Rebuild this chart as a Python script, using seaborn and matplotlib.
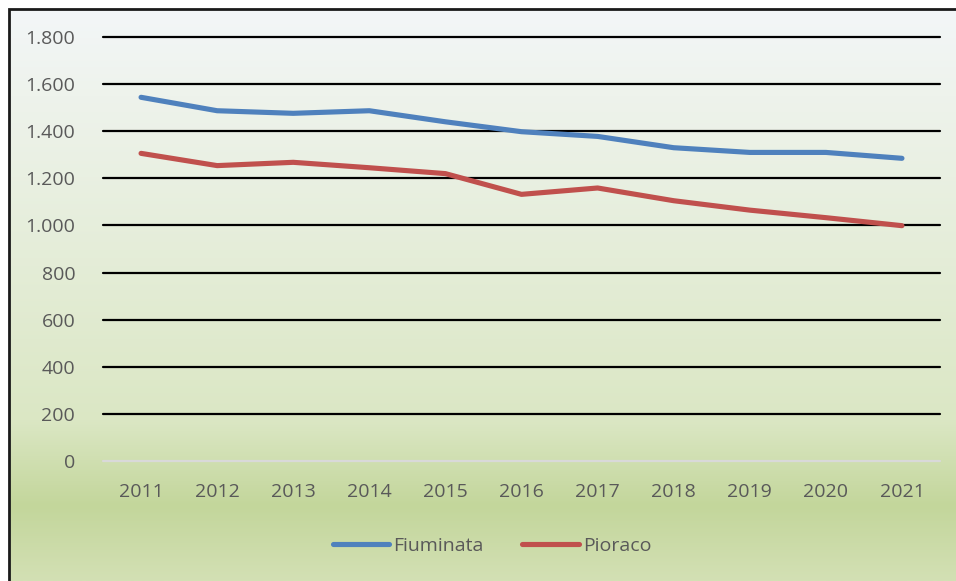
import numpy as np
import pandas as pd
import matplotlib
matplotlib.use("Agg")
import matplotlib.pyplot as plt
import seaborn as sns
from matplotlib.colors import LinearSegmentedColormap
from matplotlib.patches import Rectangle
from matplotlib.ticker import FuncFormatter
from matplotlib.lines import Line2D

years = ["2011", "2012", "2013", "2014", "2015", "2016", "2017", "2018", "2019", "2020", "2021"]
fiuminata = [1544, 1487, 1476, 1487, 1440, 1398, 1378, 1330, 1310, 1310, 1285]
pioraco = [1306, 1254, 1268, 1245, 1220, 1132, 1159, 1105, 1065, 1033, 999]
series_names = ["Fiuminata", "Pioraco"]
colors = ["#4f81bd", "#c0504d"]

df = pd.DataFrame({"year": years * 2,
                   "value": fiuminata + pioraco,
                   "series": [series_names[0]] * len(years) + [series_names[1]] * len(years)})

sns.set_theme(style="white")
plt.rcParams["font.family"] = ["Open Sans", "DejaVu Sans"]

W, H = 956, 581
fig = plt.figure(figsize=(W / 100, H / 100), dpi=100)
fig.patch.set_facecolor("white")

# gradient background panel
bg = fig.add_axes([9 / W, 0, 1 - 9 / W, 1 - 9 / H], zorder=0)
cmap = LinearSegmentedColormap.from_list(
    "g", [(0.0, "#f3f6f8"), (0.15, "#eef3ec"), (0.72, "#dbe7c4"), (0.87, "#c3d69b"), (1.0, "#d3e0b4")])
grad = np.linspace(0, 1, 256).reshape(-1, 1)
bg.imshow(grad, aspect="auto", cmap=cmap, extent=[0, 1, 1, 0])
bg.set_axis_off()
fig.add_artist(Rectangle((8.5 / W, -0.01), 1.1, 1 - 8.5 / H + 0.01, transform=fig.transFigure,
                         fill=False, edgecolor="#1a1a1a", linewidth=2, zorder=5))

ax = fig.add_axes([103 / W, 1 - 461 / H, (940 - 103) / W, (461 - 37) / H], zorder=2)
ax.patch.set_alpha(0)
sns.lineplot(data=df, x="year", y="value", hue="series", palette=colors, linewidth=3.7,
             ax=ax, legend=False, sort=False)
for l in ax.get_lines():
    l.set_solid_capstyle("round")
    l.set_zorder(4)

ax.set_xlim(-0.5, len(years) - 0.5)
ax.set_ylim(0, 1800)
ax.set_yticks(range(0, 1801, 200))
ax.yaxis.set_major_formatter(FuncFormatter(lambda v, p: f"{int(v):,}".replace(",", ".")))
for v in range(200, 1801, 200):
    ax.axhline(v, color="black", linewidth=1.6, zorder=1, clip_on=False)
ax.axhline(0, color="#d9d9d9", linewidth=1.6, zorder=1, clip_on=False)
for s in ax.spines.values():
    s.set_visible(False)
ax.tick_params(axis="both", length=0, labelsize=14, colors="#595959")
ax.tick_params(axis="y", pad=20)
ax.tick_params(axis="x", pad=16)
ax.set_xlabel("")
ax.set_ylabel("")
ax.grid(False)

handles = [Line2D([0], [0], color=c, linewidth=3.7, solid_capstyle="round") for c in colors]
fig.legend(handles, series_names, loc="center", bbox_to_anchor=(492 / W, 1 - 546 / H),
           ncol=2, frameon=False, fontsize=14, labelcolor="#595959",
           handlelength=2.9, handletextpad=0.2, columnspacing=2.0)

fig.savefig("out.png", dpi=100)
